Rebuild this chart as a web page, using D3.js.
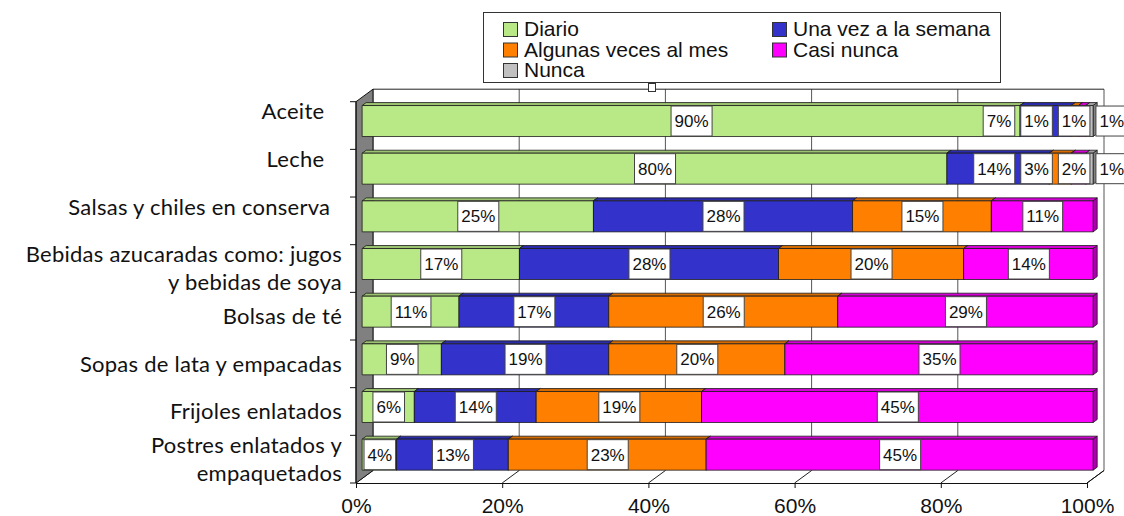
<!DOCTYPE html>
<html>
<head>
<meta charset="utf-8">
<script src="https://cdn.jsdelivr.net/npm/d3@7"></script>
<style>
	body { margin: 0; background: #fff; }
	svg { display: block; }
</style>
</head>
<body>
<div id="chart"></div>
<script>
var categories = ["Aceite   \n", "Leche   \n", "Salsas y chiles en conserva  \n",
	"Bebidas azucaradas como: jugos\ny bebidas de soya", "Bolsas de té", "Sopas de lata y empacadas",
	"Frijoles enlatados", "Postres enlatados y\nempaquetados"]
var series = ["Diario", "Una vez a la semana", "Algunas veces al mes", "Casi nunca", "Nunca"]
var diario = [90, 80, 25, 17, 11, 9, 6, 4]
var unaVez = [7, 14, 28, 28, 17, 19, 14, 13]
var algunasVeces = [1, 3, 15, 20, 26, 20, 19, 23]
var casiNunca = [1, 2, 11, 14, 29, 35, 45, 45]
var nunca = [1, 1, 0, 0, 0, 0, 0, 0]
var ticks = [0, 0.2, 0.4, 0.6, 0.8, 1]
var colors = ["#b9e986", "#3333cc", "#ff8000", "#ff00ff", "#c0c0c0"]

var W = 1124, H = 516
var DX = 17, DY = 12.5, zF = 0.36, zB = 0.6
var top0 = 101.7, bot0 = 483

var rows = categories.map(function(c, i) {
	return { cat: c, "Diario": diario[i], "Una vez a la semana": unaVez[i],
		"Algunas veces al mes": algunasVeces[i], "Casi nunca": casiNunca[i], "Nunca": nunca[i] }
})
var stacked = d3.stack().keys(series).offset(d3.stackOffsetExpand)(rows)

var x = d3.scaleLinear().domain([0, 1]).range([356, 1087])
var band = d3.scaleBand().domain(categories).range([top0, bot0])
var y = d3.scaleBand().domain(categories).range([top0, bot0]).paddingInner(0.35).paddingOuter(0.175)
var color = d3.scaleOrdinal().domain(series).range(colors)

var svg = d3.select("#chart").append("svg").attr("width", W).attr("height", H)
	.style("font-family", "'Liberation Sans', Arial, sans-serif")

// back wall + grid
svg.append("rect").attr("x", x(0) + DX).attr("y", top0 - DY).attr("width", x(1) - x(0)).attr("height", bot0 - top0)
	.attr("fill", "#fff")
svg.selectAll(".grid").data(ticks).enter().append("line")
	.attr("x1", function(d){ return x(d) + DX }).attr("x2", function(d){ return x(d) + DX })
	.attr("y1", top0 - DY).attr("y2", bot0 - DY).attr("stroke", "#555").attr("stroke-width", 1)
svg.append("line").attr("x1", x(0) + DX).attr("x2", x(1) + DX).attr("y1", top0 - DY).attr("y2", top0 - DY)
	.attr("stroke", "#222")
// floor diagonals
svg.selectAll(".floor").data(ticks).enter().append("line")
	.attr("x1", function(d){ return x(d) }).attr("x2", function(d){ return x(d) + DX })
	.attr("y1", bot0).attr("y2", bot0 - DY).attr("stroke", "#222")
// left wall
svg.append("polygon")
	.attr("points", [[x(0), top0], [x(0) + DX, top0 - DY], [x(0) + DX, bot0 - DY], [x(0), bot0]].join(" "))
	.attr("fill", "#808080").attr("stroke", "#111").attr("stroke-width", 1)
// small handle under legend
svg.append("rect").attr("x", 648.5).attr("y", 83.5).attr("width", 7).attr("height", 8)
	.attr("fill", "#fff").attr("stroke", "#333")

// bars
var bars = svg.append("g")
categories.forEach(function(cat, i) {
	var yt = y(cat) - zF * DY, yb = yt + y.bandwidth()
	var ddx = (zB - zF) * DX, ddy = (zB - zF) * DY
	stacked.forEach(function(s) {
		var v0 = s[i][0], v1 = s[i][1]
		if (v1 - v0 <= 0) return
		var xa = x(v0) + zF * DX, xb = x(v1) + zF * DX
		var c = d3.color(color(s.key))
		var g = bars.append("g").attr("stroke", "#1a1a1a").attr("stroke-width", 0.8).attr("stroke-linejoin", "round")
		g.append("polygon").attr("points", [[xa, yt], [xb, yt], [xb + ddx, yt - ddy], [xa + ddx, yt - ddy]].join(" "))
			.attr("fill", c.darker(0.5))
		g.append("polygon").attr("points", [[xb, yt], [xb + ddx, yt - ddy], [xb + ddx, yb - ddy], [xb, yb]].join(" "))
			.attr("fill", c.darker(1.1))
		g.append("rect").attr("x", xa).attr("y", yt).attr("width", xb - xa).attr("height", yb - yt)
			.attr("fill", c)
	})
})

// data labels, pushed apart where they collide
var labelLayer = svg.append("g")
var gap = 6, maxRight = W + 3
categories.forEach(function(cat, i) {
	var cy = y(cat) - zF * DY + y.bandwidth() / 2
	var items = []
	stacked.forEach(function(s) {
		var raw = s[i].data[s.key]
		if (!raw) return
		var g = labelLayer.append("g")
		var t = g.append("text").text(raw + "%").attr("font-size", 17).attr("fill", "#111")
			.attr("text-anchor", "middle").attr("dy", "0.35em")
		var w = t.node().getComputedTextLength() + 7
		items.push({ g: g, t: t, w: w, want: x((s[i][0] + s[i][1]) / 2) + zF * DX })
	})
	var clusters = []
	items.forEach(function(it) {
		var c = { items: [it] }
		clusters.push(c)
		while (true) {
			var cur = clusters[clusters.length - 1]
			var width = d3.sum(cur.items, function(d){ return d.w }) + gap * (cur.items.length - 1)
			cur.left = d3.mean(cur.items, function(d){ return d.want }) - width / 2
			cur.left = Math.min(cur.left, maxRight - width)
			cur.width = width
			var prev = clusters[clusters.length - 2]
			if (!prev || prev.left + prev.width + gap <= cur.left) break
			prev.items = prev.items.concat(cur.items)
			clusters.pop()
		}
	})
	clusters.forEach(function(c) {
		var pos = c.left
		c.items.forEach(function(it) {
			it.g.insert("rect", "text").attr("x", pos + 0.5).attr("y", cy - 15).attr("width", it.w).attr("height", 30)
				.attr("fill", "#fff").attr("stroke", "#444").attr("stroke-width", 1)
			it.t.attr("x", pos + it.w / 2 + 0.5).attr("y", cy)
			pos += it.w + gap
		})
	})
})

// axes
svg.append("line").attr("x1", x(0)).attr("x2", x(0)).attr("y1", top0).attr("y2", bot0).attr("stroke", "#111")
svg.append("line").attr("x1", x(1)).attr("x2", x(1) + DX).attr("y1", bot0).attr("y2", bot0 - DY).attr("stroke", "#111")
svg.selectAll(".ytick").data(d3.range(categories.length + 1)).enter().append("line")
	.attr("x1", x(0) - 6).attr("x2", x(0))
	.attr("y1", function(d){ return top0 + d * band.step() }).attr("y2", function(d){ return top0 + d * band.step() })
	.attr("stroke", "#111")

var xAxis = svg.append("g").attr("transform", "translate(0," + bot0 + ")")
	.call(d3.axisBottom(x).tickValues(ticks).tickFormat(d3.format(".0%")).tickSize(5).tickSizeOuter(0).tickPadding(10))
xAxis.select(".domain").attr("stroke", "#111")
xAxis.selectAll("line").attr("stroke", "#111")
xAxis.selectAll("text").attr("font-size", 21).attr("fill", "#111")
	.attr("font-family", "'Liberation Sans', Arial, sans-serif")

var catG = svg.append("g").attr("font-family", "Lato, 'Noto Sans', sans-serif").attr("font-size", 22)
	.attr("letter-spacing", 0.25).attr("fill", "#111")
categories.forEach(function(cat) {
	var lines = cat.split("\n")
	var cy = band(cat) + band.bandwidth() / 2
	lines.forEach(function(line, k) {
		catG.append("text").attr("x", 342).attr("y", cy + (k - (lines.length - 1) / 2) * 28)
			.attr("dy", "0.35em").attr("text-anchor", "end").style("white-space", "pre").text(line)
	})
})

// legend
var legend = svg.append("g")
legend.append("rect").attr("x", 483.5).attr("y", 12.5).attr("width", 517).attr("height", 70)
	.attr("fill", "#fff").attr("stroke", "#333")
var items = legend.selectAll(".item").data(series).enter().append("g")
	.attr("transform", function(d, i){ return "translate(" + (i % 2 ? 772 : 503) + "," + (36 + Math.floor(i / 2) * 20.5) + ")" })
items.append("rect").attr("x", 0.5).attr("y", -13.5).attr("width", 14).attr("height", 14)
	.attr("fill", function(d){ return color(d) }).attr("stroke", "#333")
items.append("text").attr("x", 21).attr("y", 0).attr("font-size", 21).attr("fill", "#111").text(function(d){ return d })
</script>
</body>
</html>
